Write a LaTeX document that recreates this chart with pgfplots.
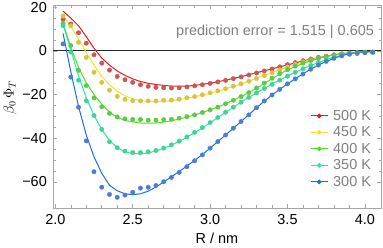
\documentclass[border=0pt]{standalone}
\usepackage{fontspec}
\setmainfont{Liberation Sans}
\usepackage{pgfplots}
\usepackage{pgfplotstable}
\pgfplotsset{compat=1.18}
\definecolor{lred}{RGB}{232,28,28}
\definecolor{dred}{RGB}{205,85,85}
\definecolor{lyel}{RGB}{250,225,30}
\definecolor{dyel}{RGB}{215,195,70}
\definecolor{lgrn}{RGB}{75,230,25}
\definecolor{dgrn}{RGB}{95,200,70}
\definecolor{lcyn}{RGB}{35,235,165}
\definecolor{dcyn}{RGB}{65,210,150}
\definecolor{lblu}{RGB}{30,110,235}
\definecolor{dblu}{RGB}{75,125,210}
\definecolor{framegray}{RGB}{165,165,165}
\definecolor{txtgray}{RGB}{128,128,128}
\definecolor{zerocol}{RGB}{40,40,40}
\pgfplotstableread{
R d500 l500 d450 l450 d400 l400 d350 l350 d300 l300
2.05 14.5 18.2 16.0 16.5 12.6 12.8 11.5 12.0 3.2 8.0
2.10 12.3 15.0 11.5 11.2 2.5 1.5 -0.5 0.5 -12.0 -9.5
2.15 8.3 11.5 3.9 5.5 -8.9 -7.5 -13.4 -11.5 -25.8 -25.5
2.20 3.5 6.5 -3.0 -0.8 -15.9 -14.7 -22.8 -21.5 -41.2 -38.5
2.25 -1.8 1.2 -9.8 -6.5 -21.5 -20.0 -29.6 -29.5 -55.3 -48.5
2.30 -5.6 -3.3 -14.4 -11.7 -25.6 -24.5 -35.9 -36.0 -62.4 -56.0
2.35 -8.8 -6.5 -18.0 -15.5 -28.6 -28.0 -41.6 -41.0 -65.7 -61.5
2.40 -11.7 -9.2 -20.8 -18.5 -30.2 -30.4 -44.3 -44.3 -67.0 -64.0
2.45 -13.2 -11.2 -22.2 -20.6 -31.1 -31.8 -45.9 -46.2 -66.0 -65.4
2.50 -14.4 -12.8 -22.8 -22.0 -31.4 -32.5 -46.5 -47.0 -64.7 -65.8
2.55 -15.5 -14.0 -22.9 -22.8 -31.4 -33.0 -46.5 -47.1 -62.8 -65.4
2.60 -16.2 -14.8 -22.9 -23.1 -31.7 -33.1 -46.2 -46.7 -62.4 -64.2
2.65 -16.7 -15.4 -22.9 -23.2 -31.7 -33.0 -45.6 -45.8 -61.6 -62.3
2.70 -16.9 -15.8 -22.6 -23.1 -31.5 -32.6 -44.5 -44.6 -59.9 -60.0
2.75 -17.0 -16.1 -22.5 -22.8 -31.3 -32.0 -43.0 -43.1 -57.9 -57.6
2.80 -16.9 -16.2 -22.1 -22.3 -30.8 -31.2 -41.3 -41.4 -55.6 -55.2
2.85 -16.5 -16.1 -21.5 -21.7 -30.1 -30.3 -39.4 -39.5 -53.0 -52.7
2.90 -16.0 -15.8 -20.9 -21.0 -29.3 -29.3 -37.3 -37.4 -50.3 -50.1
2.95 -15.5 -15.3 -20.1 -20.2 -28.2 -28.2 -35.1 -35.2 -47.6 -47.4
3.00 -14.9 -14.8 -19.2 -19.4 -27.0 -27.0 -32.8 -32.9 -44.5 -44.5
3.05 -14.2 -14.1 -18.3 -18.5 -25.7 -25.7 -30.5 -30.5 -41.5 -41.5
3.10 -13.5 -13.4 -17.3 -17.4 -24.2 -24.2 -28.1 -28.1 -38.5 -38.5
3.15 -12.7 -12.6 -16.2 -16.3 -22.6 -22.6 -25.8 -25.8 -35.4 -35.4
3.20 -11.9 -11.8 -15.1 -15.1 -20.9 -20.9 -23.5 -23.5 -32.3 -32.3
3.25 -11.0 -10.9 -13.9 -13.9 -19.1 -19.1 -21.3 -21.3 -29.3 -29.2
3.30 -10.1 -10.0 -12.6 -12.6 -17.0 -17.0 -19.2 -19.2 -26.0 -26.0
3.35 -9.2 -9.1 -11.3 -11.3 -14.8 -14.9 -17.2 -17.2 -22.9 -23.0
3.40 -8.3 -8.2 -10.0 -10.0 -12.5 -12.7 -15.3 -15.2 -20.2 -20.2
3.45 -7.3 -7.3 -8.7 -8.7 -10.4 -10.6 -13.4 -13.3 -17.6 -17.6
3.50 -6.3 -6.4 -7.4 -7.4 -8.6 -8.7 -11.6 -11.5 -15.1 -15.1
3.55 -5.4 -5.5 -6.2 -6.2 -7.0 -7.1 -9.8 -9.8 -12.8 -12.7
3.60 -4.5 -4.6 -5.1 -5.1 -5.6 -5.7 -8.2 -8.2 -10.6 -10.5
3.65 -3.7 -3.8 -4.1 -4.1 -4.4 -4.5 -6.7 -6.7 -8.4 -8.4
3.70 -3.0 -3.1 -3.3 -3.2 -3.4 -3.5 -5.3 -5.3 -6.5 -6.5
3.75 -2.4 -2.4 -2.6 -2.5 -2.6 -2.6 -4.1 -4.0 -4.8 -4.8
3.80 -1.8 -1.8 -2.0 -1.9 -1.9 -1.9 -3.0 -2.9 -3.4 -3.4
3.85 -1.4 -1.3 -1.5 -1.4 -1.4 -1.3 -2.1 -2.0 -2.3 -2.2
3.90 -1.0 -0.9 -1.2 -1.0 -1.1 -0.9 -1.5 -1.3 -1.5 -1.3
3.95 -0.8 -0.6 -0.9 -0.7 -0.8 -0.6 -1.1 -0.8 -1.1 -0.7
4.00 -0.6 -0.4 -0.7 -0.5 -0.6 -0.4 -0.8 -0.5 -0.8 -0.4
4.05 -0.5 -0.3 -0.6 -0.3 -0.6 -0.3 -0.6 -0.3 -0.6 -0.3
}\data
\begin{document}
\begin{tikzpicture}
\useasboundingbox (0,0) rectangle (383bp,248bp);
\begin{axis}[
  at={(53bp,40bp)}, anchor=south west,
  scale only axis, width=328bp, height=203bp,
  xmin=1.985, xmax=4.104, ymin=-71.9, ymax=21,
  xtick={2,2.5,3,3.5,4}, xticklabels={2.0,2.5,3.0,3.5,4.0},
  minor x tick num=4,
  ytick={-60,-40,-20,0,20}, yticklabels={−60,−40,−20,0,20},
  minor y tick num=3,
  tick align=inside,
  major tick length=4bp, minor tick length=2.5bp,
  axis line style={framegray, line width=0.8bp},
  every tick/.style={framegray, line width=0.6bp},
  tick label style={font=\fontsize{14.5}{16}\selectfont, text=black},
  xticklabel style={anchor=base, yshift=-16.3bp, inner sep=0pt},
  yticklabel style={anchor=east, inner sep=0pt, xshift=-6bp},
  xlabel={R / nm},
  xlabel style={at={(axis description cs:0.5,-0.1773)}, anchor=base, font=\fontsize{14.5}{16}\selectfont, inner sep=0pt},
  ylabel={$\beta_0\,\Phi_T$},
  ylabel style={at={(axis description cs:-0.1311,0.544)}, anchor=center, font=\fontsize{14.5}{16}\selectfont, inner sep=0pt},
  legend style={at={(0.7835,0.4953)}, anchor=north west, draw=none, fill=none, inner sep=0pt, row sep=0pt, column sep=3bp, font=\fontsize{14.5}{16}\selectfont, text=txtgray, cells={anchor=west, inner sep=0pt, minimum height=16.5bp}},
  legend cell align=left,
]
\addlegendimage{lred, line width=1bp, mark=*, mark size=1.8bp}
\addlegendentry{500 K}
\addlegendimage{lyel, line width=1bp, mark=*, mark size=1.8bp}
\addlegendentry{450 K}
\addlegendimage{lgrn, line width=1bp, mark=*, mark size=1.8bp}
\addlegendentry{400 K}
\addlegendimage{lcyn, line width=1bp, mark=*, mark size=1.8bp}
\addlegendentry{350 K}
\addlegendimage{lblu, line width=1bp, mark=*, mark size=1.8bp}
\addlegendentry{300 K}
\addplot[forget plot, zerocol, line width=0.8bp] coordinates {(1.985,0) (4.104,0)};
\addplot[forget plot, lred, line width=1bp] table[x=R, y=l500] {\data};
\addplot[forget plot, lyel, line width=1bp] table[x=R, y=l450] {\data};
\addplot[forget plot, lgrn, line width=1bp] table[x=R, y=l400] {\data};
\addplot[forget plot, lcyn, line width=1bp] table[x=R, y=l350] {\data};
\addplot[forget plot, lblu, line width=1bp] table[x=R, y=l300] {\data};
\addplot[forget plot, only marks, mark=*, mark size=2.2bp, dred] table[x=R, y=d500] {\data};
\addplot[forget plot, only marks, mark=*, mark size=2.2bp, dyel] table[x=R, y=d450] {\data};
\addplot[forget plot, only marks, mark=*, mark size=2.2bp, dgrn] table[x=R, y=d400] {\data};
\addplot[forget plot, only marks, mark=*, mark size=2.2bp, dcyn] table[x=R, y=d350] {\data};
\addplot[forget plot, only marks, mark=*, mark size=2.2bp, dblu] table[x=R, y=d300] {\data};
\node[anchor=base east, font=\fontsize{14.5}{16}\selectfont, text=txtgray, inner sep=0pt] at (rel axis cs:0.979,0.852) {prediction error = 1.515 | 0.605};
\end{axis}
\end{tikzpicture}
\end{document}
